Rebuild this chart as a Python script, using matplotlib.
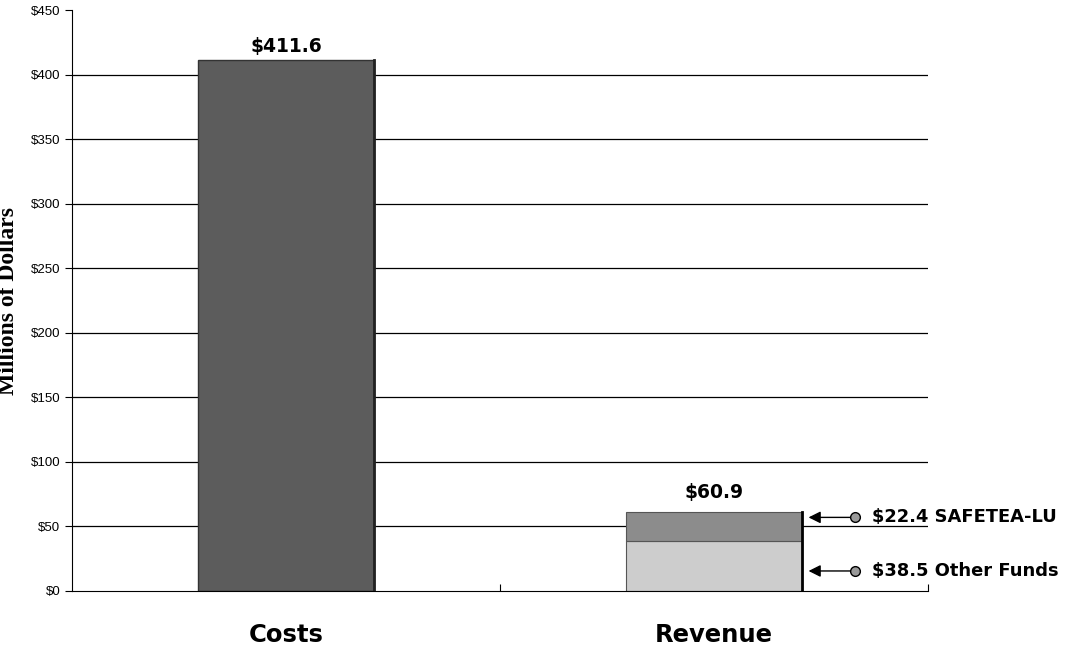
import matplotlib.pyplot as plt
import numpy as np

categories = ['Costs', 'Revenue']
costs_total = 411.6
other_funds = 38.5
safetea_lu = 22.4
revenue_total = 60.9
yticks = [0, 50, 100, 150, 200, 250, 300, 350, 400, 450]

plt.rcParams['font.family'] = ['Liberation Sans', 'DejaVu Sans']

fig = plt.figure(figsize=(10.65, 6.51), dpi=100)
ax = fig.add_axes([0.0676, 0.0922, 0.8035, 0.8924])

x = np.arange(len(categories))
width = 0.41

# grid first, bars on top
for v in yticks[1:-1]:
    ax.axhline(v, color='black', linewidth=0.9, zorder=0)

ax.bar(x[0], costs_total, width, color='#5c5c5c', edgecolor='#333333', linewidth=1, zorder=2)
ax.plot([x[0] + width / 2, x[0] + width / 2], [0, costs_total], color='#222222', lw=2, zorder=3)
ax.bar(x[1], other_funds, width, color='#cdcdcd', edgecolor='#555555', linewidth=0.8, zorder=2)
ax.bar(x[1], safetea_lu, width, bottom=other_funds, color='#8c8c8c', edgecolor='#555555',
       linewidth=0.8, zorder=2)
# dark right edge on revenue bar
ax.plot([x[1] + width / 2, x[1] + width / 2], [0, revenue_total], color='black', lw=2, zorder=3)

bold = dict(fontweight='bold', family='DejaVu Sans')
ax.text(x[0], costs_total + 3, f'${costs_total:.1f}', ha='center', va='bottom',
        fontsize=13.5, **bold)
ax.text(x[1], revenue_total + 8, f'${revenue_total:.1f}', ha='center', va='bottom',
        fontsize=13.5, **bold)

# arrow labels
labels = [(57, f'${safetea_lu:.1f} SAFETEA-LU'), (15.5, f'${other_funds:.1f} Other Funds')]
for yv, txt in labels:
    ax.annotate('', xy=(x[1] + width / 2 + 0.01, yv), xytext=(x[1] + width / 2 + 0.125, yv),
                arrowprops=dict(arrowstyle='-|>', color='black', lw=1,
                                facecolor='#bbbbbb', mutation_scale=18),
                annotation_clip=False)
    ax.plot(x[1] + width / 2 + 0.125, yv, 'o', ms=7, color='#999999', mec='black',
            clip_on=False, zorder=4)
    ax.text(x[1] + width / 2 + 0.165, yv, txt, ha='left', va='center',
            fontsize=12.9, clip_on=False, **bold)

ax.set_xlim(-0.5, 1.5)
ax.set_ylim(0, 450)
ax.set_yticks(yticks)
ax.set_yticklabels([f'${v}' for v in yticks], fontsize=9.5)
ax.set_xticks([0.5, 1.5])
ax.set_xticklabels([])
ax.tick_params(axis='x', length=5, direction='in')
ax.tick_params(axis='y', length=5, direction='out')

for i, c in enumerate(categories):
    ax.text(x[i], -0.076, c, transform=ax.get_xaxis_transform(), ha='center', va='center',
            fontsize=17.5, **bold)

ax.spines['top'].set_visible(False)
ax.spines['right'].set_visible(False)

ax.set_ylabel('Millions of Dollars', fontsize=17, fontweight='bold',
              family='Liberation Serif', labelpad=8)

fig.savefig('out.png', dpi=100)
